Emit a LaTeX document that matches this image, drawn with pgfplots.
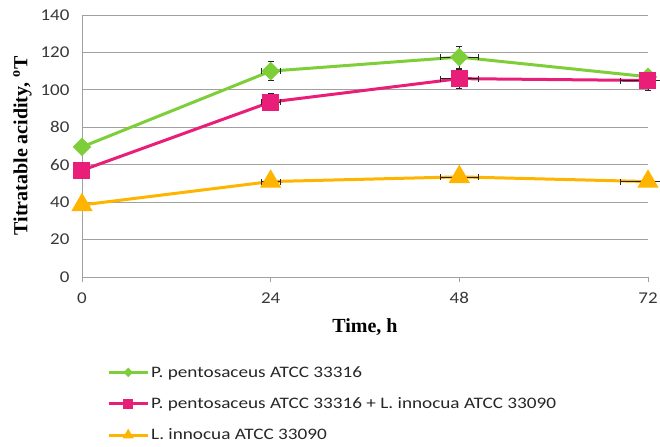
\documentclass[border=0pt]{standalone}
\usepackage{fontspec}
\setmainfont{Carlito}
\newfontfamily\tickfont[FakeStretch=1.15]{Carlito}
\newfontfamily\legfont[FakeStretch=1.2]{Carlito}
\newfontfamily\timesfont{Liberation Serif}
\usepackage{pgfplots}
\pgfplotsset{compat=1.18}
\definecolor{cgreen}{RGB}{125,206,57}
\definecolor{cpink}{RGB}{233,30,121}
\definecolor{cyellow}{RGB}{255,180,0}
\definecolor{cgrid}{RGB}{160,160,160}
\begin{document}
\begin{tikzpicture}
\path[use as bounding box] (-82bp,-170bp) rectangle (578bp,277bp);
\begin{axis}[
  at={(0,0)}, anchor=south west,
  scale only axis, width=566bp, height=262bp,
  xmin=0, xmax=72, ymin=0, ymax=140,
  xtick={0,24,48,72}, ytick={0,20,...,140},
  axis x line*=bottom, axis y line*=left,
  axis line style={cgrid, line width=0.8bp, -},
  ymajorgrids, grid style={cgrid, line width=0.8bp},
  major tick length=5bp,
  xtick style={cgrid, line width=0.8bp},
  ytick style={draw=none},
  tick align=outside,
  ticklabel style={font=\tickfont\fontsize{16.5bp}{18bp}\selectfont, text=black!78},
  xticklabel style={yshift=-7bp},
  yticklabel style={xshift=-4bp},
  /pgf/number format/assume math mode=true,
  xlabel={\timesfont\bfseries Time, h},
  ylabel={\timesfont\bfseries Titratable acidity, \textsuperscript{o}T},
  label style={font=\fontsize{20bp}{22bp}\selectfont},
  xlabel style={yshift=-8bp},
  ylabel style={yshift=2bp},
  clip=false,
  legend style={at={(25bp,-87bp)}, anchor=north west, draw=none, fill=none,
    font=\legfont\fontsize{16bp}{19bp}\selectfont, row sep=15bp, cells={anchor=west},
    inner sep=0pt, text=black!85},
  legend cell align=left,
  legend image code/.code={\draw[mark repeat=2, mark phase=2, mark size=3.5bp] plot coordinates {(0bp,0bp) (19.5bp,0bp) (39bp,0bp)};},
  every axis plot/.append style={line width=3bp},
  error bars/error bar style={black!85, line width=0.6bp},
  error bars/error mark options={black!85, line width=0.6bp, mark size=3bp, rotate=90},
]
\addplot[color=cgreen, mark=diamond*, mark size=9.5bp, mark options={yscale=0.75},
  error bars/.cd, y dir=both, y explicit, x dir=both, x explicit]
  table[x=x, y=y, x error=ex, y error=ey] {
x y ex ey
0 69.5 0 3
24 110 1.2 5
48 117.5 2.4 6
72 107 0 3
};
\addlegendentry{P. pentosaceus ATCC 33316}
\addplot[color=cpink, mark=square*, mark size=7bp,
  error bars/.cd, y dir=both, y explicit, x dir=both, x explicit]
  table[x=x, y=y, x error=ex, y error=ey] {
x y ex ey
0 57 0 0
24 93.5 1.2 4.5
48 106 2.4 5
72 105 3.5 5
};
\addlegendentry{P. pentosaceus ATCC 33316 + L. innocua ATCC 33090}
\addplot[color=cyellow, mark=triangle*, mark size=9.3bp,
  error bars/.cd, y dir=both, y explicit, x dir=both, x explicit]
  table[x=x, y=y, x error=ex, y error=ey] {
x y ex ey
0 38.5 0 0
24 51 1.2 2
48 53.5 2.4 2
72 51 3.5 0
};
\addlegendentry{L. innocua ATCC 33090}
\end{axis}
\end{tikzpicture}
\end{document}
